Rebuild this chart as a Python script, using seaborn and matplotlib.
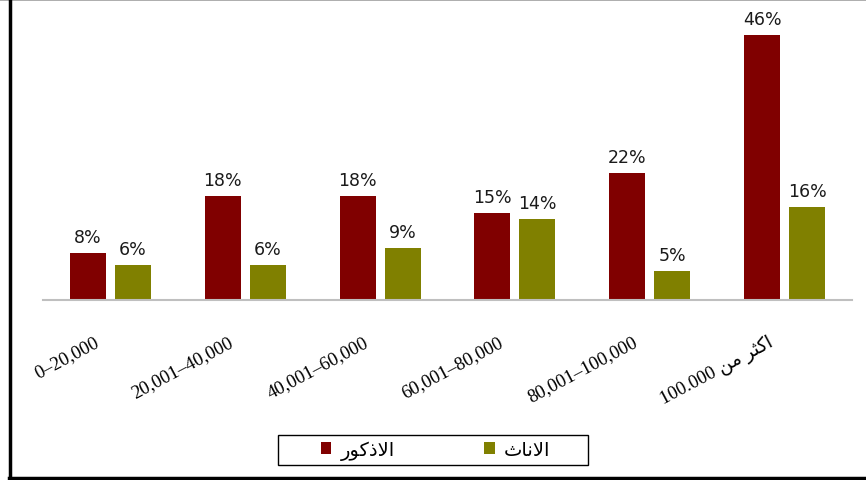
import matplotlib
matplotlib.use("Agg")
import matplotlib.pyplot as plt
import matplotlib.transforms as mtransforms
from matplotlib.patches import Rectangle, Patch
from matplotlib.lines import Line2D
import seaborn as sns
import pandas as pd

# Income brackets. Arabic is written in presentation forms, visual order,
# because matplotlib performs no Arabic shaping or bidi reordering.
categories = [
    "0\u201320,000",
    "20,001\u201340,000",
    "40,001\u201360,000",
    "60,001\u201380,000",
    "80,001\u2013100,000",
    "100.000 \uFEE6\uFEE3 \uFEAE\uFE9C\uFEDB\uFE8D",   # اكثر من 100.000
]
male_pct = [8, 18, 18, 15, 22, 46]
female_pct = [6, 6, 9, 14, 5, 16]
series_names = [
    "\uFEAD\uFEEE\uFEDB\uFEAB\uFEFB\uFE8D",   # الاذكور
    "\uFE99\uFE8E\uFEE7\uFEFB\uFE8D",         # الاناث
]
series_colors = ["#800000", "#808000"]

plt.rcParams["font.family"] = ["DejaVu Sans"]

W, H, DPI = 866, 481, 100
fig = plt.figure(figsize=(W / DPI, H / DPI), dpi=DPI)
fig.patch.set_facecolor("white")
ax = fig.add_axes([43 / W, 180.5 / H, 809 / W, 288 / H])

df = pd.DataFrame({
    "category": categories * 2,
    "series": [series_names[0]] * len(categories) + [series_names[1]] * len(categories),
    "pct": male_pct + female_pct,
})

sns.barplot(
    data=df, x="category", y="pct", hue="series",
    order=categories, hue_order=series_names,
    palette=dict(zip(series_names, series_colors)),
    width=0.667, gap=0.2, saturation=1, legend=False, ax=ax,
)

ax.set_xlim(-0.5, len(categories) - 0.5)
ax.set_ylim(0, 50)
for side in ("left", "right", "top"):
    ax.spines[side].set_visible(False)
ax.spines["bottom"].set_color("#BFBFBF")
ax.spines["bottom"].set_linewidth(1.5)
ax.set_yticks([])
ax.set_xlabel("")
ax.set_ylabel("")
ax.set_facecolor("white")

# value labels above each bar
for container, vals in zip(ax.containers, [male_pct, female_pct]):
    ax.bar_label(container, labels=[f"{v}%" for v in vals], padding=5,
                 fontsize=12.5, color="#1a1a1a")

# slanted category labels
ax.tick_params(axis="x", length=0, pad=24)
ax.set_xticks(range(len(categories)))
ax.set_xticklabels(categories, rotation=28, ha="right", va="top",
                   rotation_mode="anchor", fontsize=13.5,
                   family=["Liberation Serif", "DejaVu Sans"], color="black")
shift = mtransforms.ScaledTranslation(-17 / DPI, 0, fig.dpi_scale_trans)
for lbl in ax.get_xticklabels():
    lbl.set_transform(lbl.get_transform() + shift)

# legend with its own box
handles = [Patch(facecolor=c, edgecolor="none") for c in series_colors]
fig.legend(handles, series_names, loc="center",
           bbox_to_anchor=(435.5 / W, 1 - 451 / H), ncol=2, frameon=False,
           handlelength=0.55, handleheight=0.55, handletextpad=0.46,
           columnspacing=4.6, fontsize=14)
fig.add_artist(Rectangle((278 / W, 1 - 466 / H), 310 / W, 30 / H,
                         transform=fig.transFigure, fill=False,
                         edgecolor="black", linewidth=1))

# outer frame: thin grey top, heavy black left and bottom
fig.add_artist(Line2D([0, 1], [1 - 0.6 / H] * 2, transform=fig.transFigure,
                      color="#A0A0A0", linewidth=1.2))
fig.add_artist(Line2D([9.5 / W] * 2, [2 / H, 1], transform=fig.transFigure,
                      color="black", linewidth=2.5))
fig.add_artist(Line2D([8.5 / W, 1], [2.5 / H] * 2, transform=fig.transFigure,
                      color="black", linewidth=2.5))

fig.savefig("out.png", dpi=DPI)
